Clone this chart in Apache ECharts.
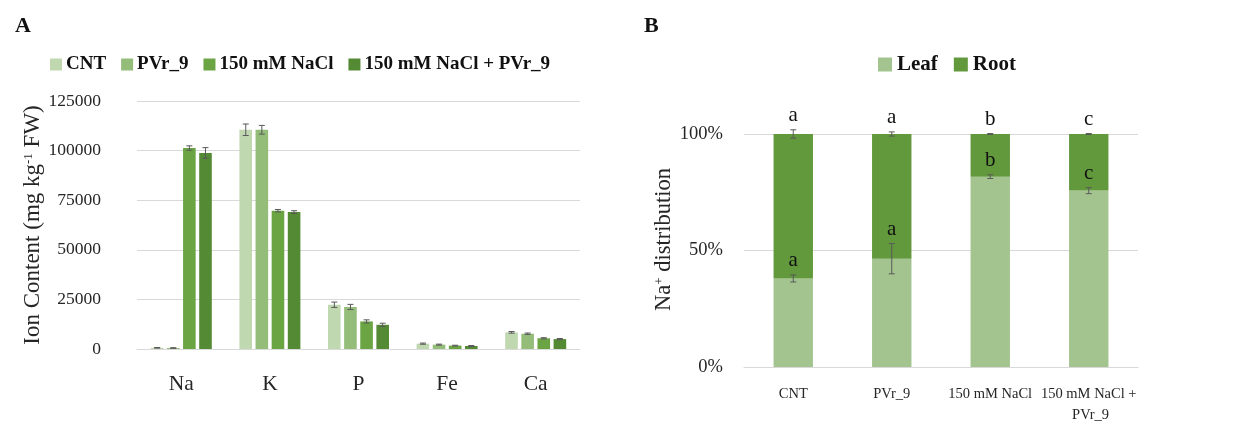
<!DOCTYPE html>
<html>
<head>
<meta charset="utf-8">
<script src="https://cdn.jsdelivr.net/npm/echarts@6/dist/echarts.min.js"></script>
<style>
html,body{margin:0;padding:0;background:#fff;}
#chart{width:1235px;height:426px;}
</style>
</head>
<body>
<div id="chart"></div>
<script>
// ---------- Panel A data ----------
const ionCats = ['Na', 'K', 'P', 'Fe', 'Ca'];
const treatNames = ['CNT', 'PVr_9', '150 mM NaCl', '150 mM NaCl + PVr_9'];
const ionCNT      = [600, 110500, 22300, 2700, 8400];
const ionPVr      = [500, 110500, 21200, 2200, 7700];
const ionNaCl     = [101300, 69700, 13900, 1700, 5400];
const ionNaClPVr  = [98800, 69000, 12200, 1500, 5000];
const errCNT      = [150, 2900, 1350, 300, 400];
const errPVr      = [150, 2200, 1300, 250, 350];
const errNaCl     = [1100, 600, 800, 200, 300];
const errNaClPVr  = [2700, 700, 800, 250, 300];
const ionTicks    = [0, 25000, 50000, 75000, 100000, 125000];

// ---------- Panel B data ----------
const distCats = ['CNT', 'PVr_9', '150 mM NaCl', '150 mM NaCl + PVr_9'];
const leafPct  = [38, 46.5, 81.7, 75.7];
const rootPct  = [62, 53.5, 18.3, 24.3];
const leafErr  = [1.5, 6.5, 0.8, 1.3];
const rootErr  = [1.8, 0.9, 0.2, 0.2];
const leafLetters = ['a', 'a', 'b', 'c'];
const rootLetters = ['a', 'a', 'b', 'c'];

// ---------- styling ----------
const FONT = 'Liberation Serif';
const txt = '#262626';
const gridCol = '#d9d9d9';
const errCol = '#595959';
const ionColors = ['#bfd8b0', '#94bd79', '#6aa443', '#558a35'];
const leafColor = '#a3c48f';
const rootColor = '#62993d';
const BAR_W = 12.6, BAR_STEP = 16.1;

const ionValues = [ionCNT, ionPVr, ionNaCl, ionNaClPVr];
const ionErrs = [errCNT, errPVr, errNaCl, errNaClPVr];

function errShape(x, yTop, yBot, half) {
  const s = {stroke: errCol, lineWidth: 1};
  return [
    {type: 'line', shape: {x1: x, y1: yTop, x2: x, y2: yBot}, style: s},
    {type: 'line', shape: {x1: x - half, y1: yTop, x2: x + half, y2: yTop}, style: s},
    {type: 'line', shape: {x1: x - half, y1: yBot, x2: x + half, y2: yBot}, style: s}
  ];
}

const seriesA = [];
ionValues.forEach((vals, i) => {
  seriesA.push({
    name: treatNames[i], type: 'bar', xAxisIndex: 0, yAxisIndex: 0,
    data: vals, barWidth: BAR_W, barGap: '28%',
    itemStyle: {color: ionColors[i]}, silent: true
  });
});
ionValues.forEach((vals, i) => {
  seriesA.push({
    type: 'custom', xAxisIndex: 0, yAxisIndex: 0, z: 5, silent: true,
    data: vals.map((v, k) => [k, v, ionErrs[i][k]]),
    renderItem: function (params, api) {
      const top = api.coord([api.value(0), api.value(1) + api.value(2)]);
      const bot = api.coord([api.value(0), api.value(1) - api.value(2)]);
      const x = top[0] + (i - 1.5) * BAR_STEP;
      return {type: 'group', children: errShape(x, top[1], bot[1], 3)};
    }
  });
});

const seriesB = [
  {name: 'Leaf', type: 'bar', stack: 'dist', xAxisIndex: 1, yAxisIndex: 1,
   data: leafPct, barWidth: '40%', itemStyle: {color: leafColor}, silent: true},
  {name: 'Root', type: 'bar', stack: 'dist', xAxisIndex: 1, yAxisIndex: 1,
   data: rootPct, barWidth: '40%', itemStyle: {color: rootColor}, silent: true},
  {type: 'custom', xAxisIndex: 1, yAxisIndex: 1, z: 5, silent: true,
   data: leafPct.map((v, k) => [k, v, leafErr[k]]),
   renderItem: function (params, api) {
     const top = api.coord([api.value(0), api.value(1) + api.value(2)]);
     const bot = api.coord([api.value(0), api.value(1) - api.value(2)]);
     const ch = errShape(top[0], top[1], bot[1], 3);
     ch.push({type: 'text', x: top[0], y: top[1] - 4,
       style: {text: leafLetters[params.dataIndex], fill: '#111', font: '21px "' + FONT + '"',
               align: 'center', verticalAlign: 'bottom'}});
     return {type: 'group', children: ch};
   }},
  {type: 'custom', xAxisIndex: 1, yAxisIndex: 1, z: 5, silent: true,
   data: leafPct.map((v, k) => [k, v + rootPct[k], rootErr[k]]),
   renderItem: function (params, api) {
     const top = api.coord([api.value(0), api.value(1) + api.value(2)]);
     const bot = api.coord([api.value(0), api.value(1) - api.value(2)]);
     const ch = errShape(top[0], top[1], bot[1], 3);
     ch.push({type: 'text', x: top[0], y: top[1] - 4,
       style: {text: rootLetters[params.dataIndex], fill: '#111', font: '21px "' + FONT + '"',
               align: 'center', verticalAlign: 'bottom'}});
     return {type: 'group', children: ch};
   }}
];

const chart = echarts.init(document.getElementById('chart'), null, {renderer: 'canvas'});
chart.setOption({
  animation: false,
  backgroundColor: '#fff',
  textStyle: {fontFamily: FONT, color: txt},
  title: [
    {text: 'A', left: 10, top: 10, textStyle: {fontFamily: FONT, fontWeight: 'bold', fontSize: 22, color: '#111'}},
    {text: 'B', left: 639, top: 10, textStyle: {fontFamily: FONT, fontWeight: 'bold', fontSize: 22, color: '#111'}}
  ],
  legend: [
    {data: treatNames, left: 45, top: 50, itemWidth: 12, itemHeight: 12, itemGap: 15,
     selectedMode: false, icon: 'rect',
     textStyle: {fontFamily: FONT, fontWeight: 'bold', fontSize: 19, color: '#111', padding: [0, 0, 0, -1]}},
    {data: ['Leaf', 'Root'], left: 873, top: 49, itemWidth: 14, itemHeight: 14, itemGap: 16,
     selectedMode: false, icon: 'rect',
     textStyle: {fontFamily: FONT, fontWeight: 'bold', fontSize: 21, color: '#111', padding: [0, 0, 0, 0]}}
  ],
  grid: [
    {left: 137, right: 655, top: 101, bottom: 77},
    {left: 744, right: 97, top: 134, bottom: 57}
  ],
  xAxis: [
    {type: 'category', gridIndex: 0, data: ionCats,
     axisLine: {lineStyle: {color: gridCol}}, axisTick: {show: false},
     axisLabel: {fontFamily: FONT, fontSize: 21.5, color: txt, margin: 24}},
    {type: 'category', gridIndex: 1, data: distCats,
     axisLine: {lineStyle: {color: gridCol}}, axisTick: {show: false},
     axisLabel: {fontFamily: FONT, fontSize: 14.5, color: txt, margin: 17, interval: 0,
                 width: 96, overflow: 'break', lineHeight: 21}}
  ],
  yAxis: [
    {type: 'value', gridIndex: 0, min: 0, max: 125000, interval: 25000,
     axisLine: {show: false}, axisTick: {show: false},
     splitLine: {lineStyle: {color: gridCol, width: 1}},
     axisLabel: {fontFamily: FONT, fontSize: 17.5, color: txt, margin: 36,
                 formatter: v => ionTicks.includes(v) ? String(v) : ''},
     name: 'Ion Content (mg kg{sup|-1} FW)', nameLocation: 'middle', nameGap: 89,
     nameTextStyle: {fontFamily: FONT, fontSize: 23, color: txt,
                     rich: {sup: {fontFamily: FONT, fontSize: 13, color: txt, verticalAlign: 'top', padding: [0, 0, 9, 0]}}}},
    {type: 'value', gridIndex: 1, min: 0, max: 100, interval: 50,
     axisLine: {show: false}, axisTick: {show: false},
     splitLine: {lineStyle: {color: gridCol, width: 1}},
     axisLabel: {fontFamily: FONT, fontSize: 18.5, color: txt, margin: 21, formatter: '{value}%'},
     name: 'Na{sup|+} distribution', nameLocation: 'middle', nameGap: 62,
     nameTextStyle: {fontFamily: FONT, fontSize: 22.5, color: txt, padding: [0, 0, 0, 22],
                     rich: {sup: {fontFamily: FONT, fontSize: 13, color: txt, verticalAlign: 'top', padding: [0, 0, 9, 0]}}}}
  ],
  series: seriesA.concat(seriesB)
});
</script>
</body>
</html>
